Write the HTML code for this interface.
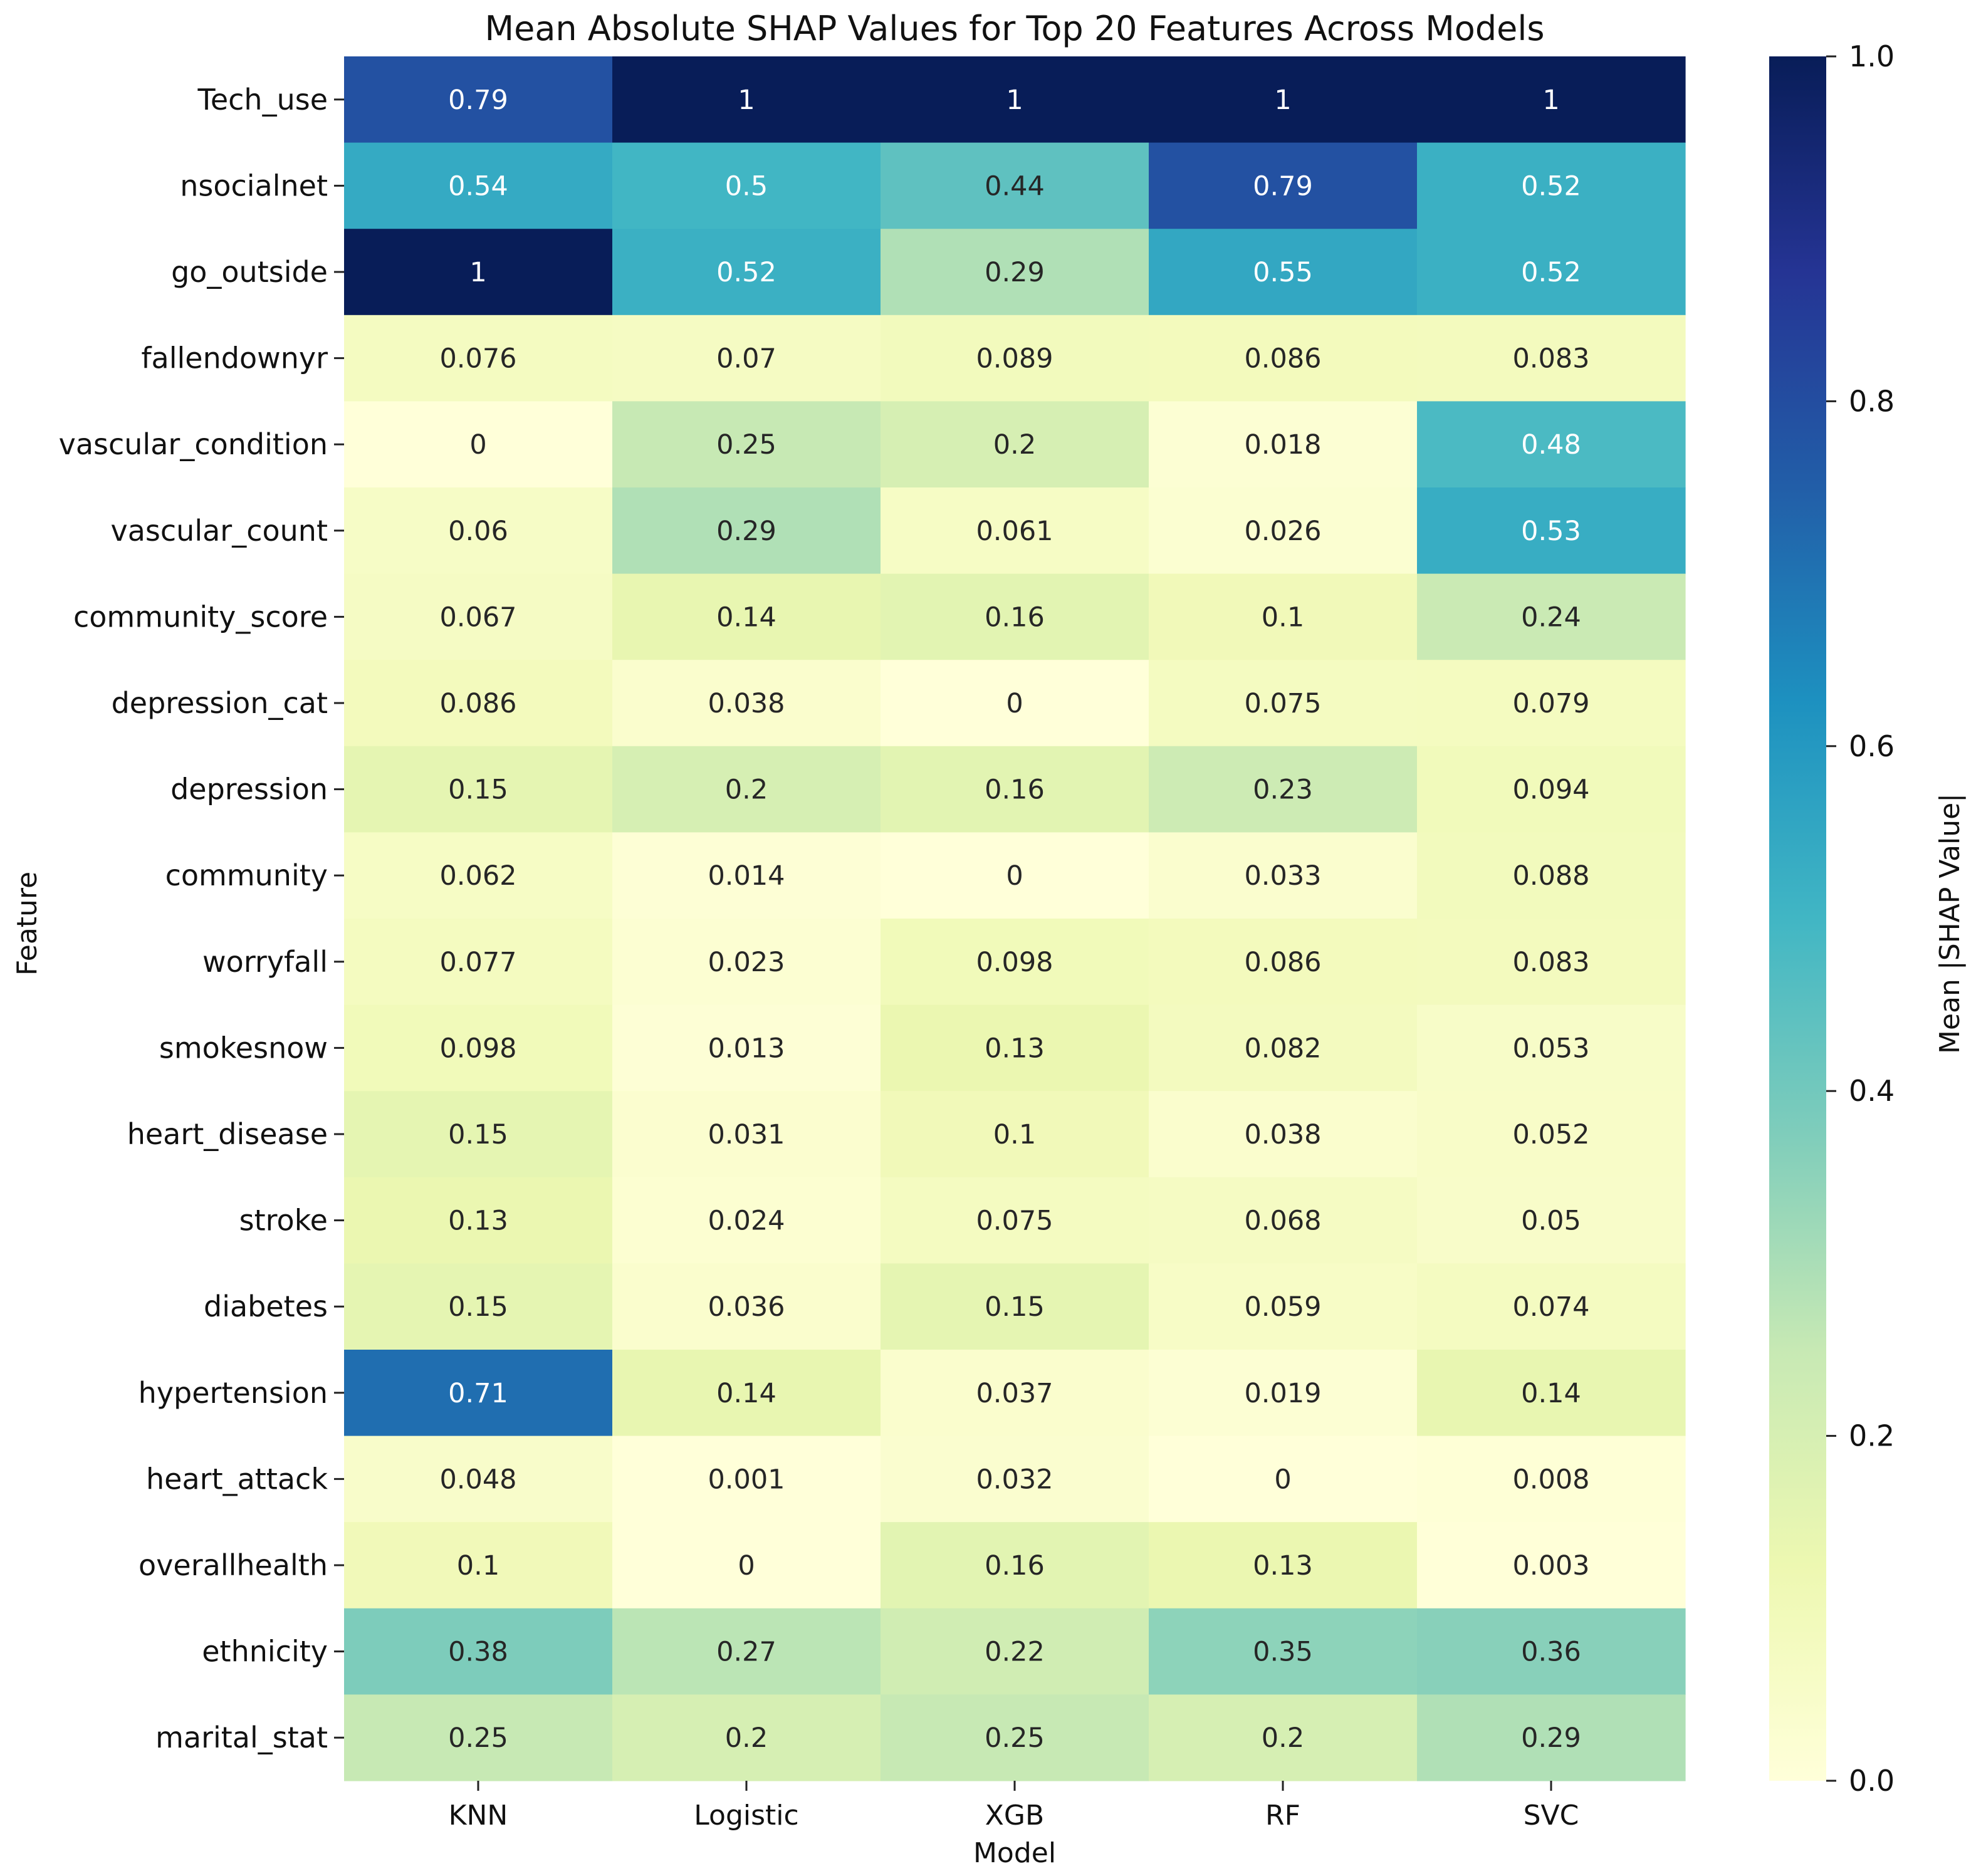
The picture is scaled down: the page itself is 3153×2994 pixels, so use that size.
<!DOCTYPE html>
<html><head><meta charset="utf-8">
<style>
html,body{margin:0;padding:0;background:#fff;}
svg{display:block;font-family:"DejaVu Sans","Liberation Sans",sans-serif;}
</style></head>
<body>
<svg id="chart" width="3153" height="2994" viewBox="0 0 3153 2994" xmlns="http://www.w3.org/2000/svg">
<defs>
<linearGradient id="cbgrad" x1="0" y1="1" x2="0" y2="0">
<stop offset="0" stop-color="#ffffd9"/><stop offset="0.125" stop-color="#edf8b1"/><stop offset="0.25" stop-color="#c7e9b4"/><stop offset="0.375" stop-color="#7fcdbb"/><stop offset="0.5" stop-color="#41b6c4"/><stop offset="0.625" stop-color="#1d91c0"/><stop offset="0.75" stop-color="#225ea8"/><stop offset="0.875" stop-color="#253494"/><stop offset="1" stop-color="#081d58"/>
</linearGradient>
</defs>
<text x="1619" y="64" font-size="54" text-anchor="middle" fill="#111">Mean Absolute SHAP Values for Top 20 Features Across Models</text>
<g id="cells"></g>
<g id="ylabels"></g>
<g id="xlabels"></g>
<text x="1619" y="2972" font-size="44" text-anchor="middle" fill="#111">Model</text>
<text x="0" y="0" font-size="44" text-anchor="middle" fill="#111" transform="translate(58,1474) rotate(-90)">Feature</text>
<rect x="2823" y="90" width="91" height="2752" fill="url(#cbgrad)"/>
<g id="cbticks"></g>
<text x="0" y="0" font-size="44" text-anchor="middle" fill="#111" transform="translate(3126,1474) rotate(-90)">Mean |SHAP Value|</text>
</svg>
<script>
const features = ["Tech_use","nsocialnet","go_outside","fallendownyr","vascular_condition","vascular_count","community_score","depression_cat","depression","community","worryfall","smokesnow","heart_disease","stroke","diabetes","hypertension","heart_attack","overallhealth","ethnicity","marital_stat"];
const models = ["KNN","Logistic","XGB","RF","SVC"];
const knnValues = [0.79,0.54,1,0.076,0,0.06,0.067,0.086,0.15,0.062,0.077,0.098,0.15,0.13,0.15,0.71,0.048,0.1,0.38,0.25];
const logisticValues = [1,0.5,0.52,0.07,0.25,0.29,0.14,0.038,0.2,0.014,0.023,0.013,0.031,0.024,0.036,0.14,0.001,0,0.27,0.2];
const xgbValues = [1,0.44,0.29,0.089,0.2,0.061,0.16,0,0.16,0,0.098,0.13,0.1,0.075,0.15,0.037,0.032,0.16,0.22,0.25];
const rfValues = [1,0.79,0.55,0.086,0.018,0.026,0.1,0.075,0.23,0.033,0.086,0.082,0.038,0.068,0.059,0.019,0,0.13,0.35,0.2];
const svcValues = [1,0.52,0.52,0.083,0.48,0.53,0.24,0.079,0.094,0.088,0.083,0.053,0.052,0.05,0.074,0.14,0.008,0.003,0.36,0.29];
const colorbarTicks = [0,0.2,0.4,0.6,0.8,1.0];
const colorbarTickLabels = ["0.0","0.2","0.4","0.6","0.8","1.0"];

const series = [knnValues,logisticValues,xgbValues,rfValues,svcValues];
const NS="http://www.w3.org/2000/svg";
const L=549,R=2689,T=90,B=2842;
const vmin=0,vmax=1;
const colW=(R-L)/models.length, rowH=(B-T)/features.length;
function xPos(i){return L+i*colW;}
function yPos(j){return T+j*rowH;}
function cbY(v){return B-(v-vmin)/(vmax-vmin)*(B-T);}
const anchors=["#ffffd9","#edf8b1","#c7e9b4","#7fcdbb","#41b6c4","#1d91c0","#225ea8","#253494","#081d58"].map(h=>[parseInt(h.slice(1,3),16),parseInt(h.slice(3,5),16),parseInt(h.slice(5,7),16)]);
function cmap(v){let t=Math.max(0,Math.min(1,(v-vmin)/(vmax-vmin)))*(anchors.length-1);let i=Math.min(Math.floor(t),anchors.length-2);let f=t-i;return anchors[i].map((c,k)=>Math.round(c+(anchors[i+1][k]-c)*f));}
function lum(rgb){const c=rgb.map(x=>{x/=255;return x<=0.03928?x/12.92:Math.pow((x+0.055)/1.055,2.4);});return 0.2126*c[0]+0.7152*c[1]+0.0722*c[2];}
function mk(tag,attrs,parent){const e=document.createElementNS(NS,tag);for(const k in attrs)e.setAttribute(k,attrs[k]);parent.appendChild(e);return e;}
const cells=document.getElementById('cells');
series.forEach((vals,i)=>{vals.forEach((v,j)=>{
  const rgb=cmap(v);
  const r=mk('rect',{x:xPos(i),y:yPos(j),width:colW+0.6,height:rowH+0.6,fill:`rgb(${rgb.join(',')})`},cells);
  
  
  const t=mk('text',{x:xPos(i)+colW/2,y:yPos(j)+rowH/2+15,'font-size':43,'text-anchor':'middle',fill:lum(rgb)>0.408?'#262626':'#ffffff'},cells);
  t.textContent=String(v);
  
  
});});
const yl=document.getElementById('ylabels');
features.forEach((f,j)=>{
  const cy=yPos(j)+rowH/2;
  const t=mk('text',{x:L-26,y:cy+16,'font-size':46,'text-anchor':'end',fill:'#111'},yl);
  t.textContent=f;
  
  
  const tk=mk('line',{x1:L-16,x2:L,y1:cy,y2:cy,stroke:'#222','stroke-width':3},yl);
  
  
});
const xl=document.getElementById('xlabels');
models.forEach((m,i)=>{
  const cx=xPos(i)+colW/2;
  const t=mk('text',{x:cx,y:2912,'font-size':44,'text-anchor':'middle',fill:'#111'},xl);
  t.textContent=m;
  
  
  const tk=mk('line',{x1:cx,x2:cx,y1:B,y2:B+16,stroke:'#222','stroke-width':3},xl);
  
  
});
const cb=document.getElementById('cbticks');
colorbarTicks.forEach((v,k)=>{
  const y=cbY(v);
  const tk=mk('line',{x1:2914,x2:2930,y1:y,y2:y,stroke:'#222','stroke-width':3},cb);
  
  
  const t=mk('text',{x:2950,y:y+16,'font-size':46,fill:'#111'},cb);
  t.textContent=colorbarTickLabels[k];
  
  
});
</script>
</body></html>
